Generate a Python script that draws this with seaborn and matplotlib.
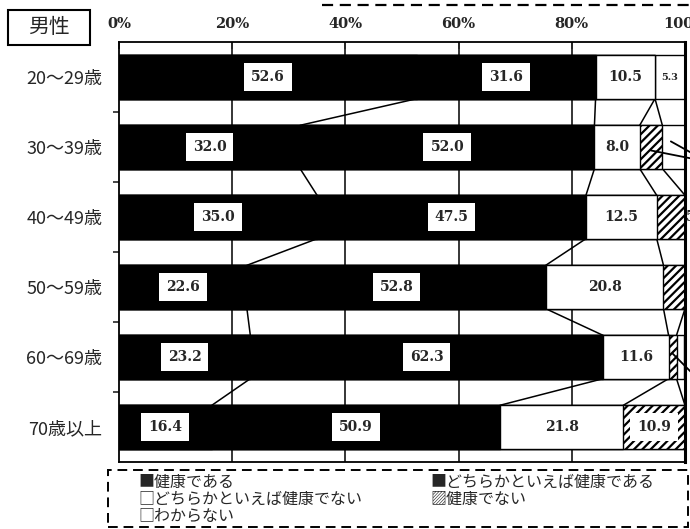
import matplotlib
matplotlib.use("Agg")
import pandas as pd
import matplotlib.pyplot as plt
import seaborn as sns
from matplotlib.patches import Rectangle
from matplotlib.lines import Line2D

# values (percent, men by age group)
AGE_GROUPS = ["20～29歳", "30～39歳", "40～49歳", "50～59歳", "60～69歳", "70歳以上"]
SERIES = ["健康である", "どちらかといえば健康である", "どちらかといえば健康でない", "健康でない", "わからない"]
HEALTHY = [52.6, 32.0, 35.0, 22.6, 23.2, 16.4]
RATHER_HEALTHY = [31.6, 52.0, 47.5, 52.8, 62.3, 50.9]
RATHER_UNHEALTHY = [10.5, 8.0, 12.5, 20.8, 11.6, 21.8]
UNHEALTHY = [0.0, 4.0, 5.0, 3.8, 1.4, 10.9]
UNKNOWN = [5.3, 4.0, 0.0, 0.0, 1.4, 0.0]
X_TICKS = [0, 20, 40, 60, 80, 100]
LEGEND_MARKS = ["■", "■", "□", "▨", "□"]

W, H = 690, 529


def px(x, y):
    return x / W, 1 - y / H


def main():
    df = pd.DataFrame({
        "age": AGE_GROUPS,
        SERIES[0]: HEALTHY,
        SERIES[1]: RATHER_HEALTHY,
        SERIES[2]: RATHER_UNHEALTHY,
        SERIES[3]: UNHEALTHY,
        SERIES[4]: UNKNOWN,
    })
    cum = df[SERIES].cumsum(axis=1)
    cum["age"] = df["age"]

    sns.set_style("white")
    plt.rcParams["font.family"] = ["Noto Sans CJK JP", "DejaVu Sans"]
    plt.rcParams["hatch.linewidth"] = 1.6

    fig = plt.figure(figsize=(W / 100, H / 100), dpi=100)
    ax = fig.add_axes([119 / W, 67 / H, 566 / W, 420 / H])

    faces = ["black", "black", "white", "white", "white"]
    hatches = [None, None, None, "////", None]
    bar_h = 0.62

    # stacked bars drawn as overlapping cumulative layers
    for k in range(len(SERIES) - 1, -1, -1):
        sns.barplot(data=cum, x=SERIES[k], y="age", order=AGE_GROUPS, orient="h",
                    color=faces[k], hatch=hatches[k], edgecolor="black", linewidth=1.0,
                    width=bar_h, saturation=1, errorbar=None, ax=ax, zorder=2)

    # series lines between neighbouring bars
    for i in range(len(AGE_GROUPS) - 1):
        for k in range(len(SERIES) - 1):
            x0 = cum.iloc[i][SERIES[k]]
            x1 = cum.iloc[i + 1][SERIES[k]]
            ax.plot([x0, x1], [i + bar_h / 2, i + 1 - bar_h / 2], color="black", lw=1.1, zorder=1)

    # value labels
    num_font = dict(family="DejaVu Serif", weight="bold")
    for i, age in enumerate(AGE_GROUPS):
        left = 0
        for k, s in enumerate(SERIES):
            v = df.loc[i, s]
            if v >= 5.3:
                size = 7 if v < 8 else 10
                pad = 2 if v < 8 else 5
                ax.text(left + v / 2, i, f"{v:.1f}", ha="center", va="center", fontsize=size,
                        zorder=5, bbox=dict(facecolor="white", edgecolor="none", pad=pad), **num_font)
            left += v

    # labels that sit outside the plot on the right (cut off by the page edge)
    ax.text(100.15, 2, f"{UNHEALTHY[2]:.1f}", ha="left", va="center", fontsize=10,
            clip_on=False, **num_font)
    c1 = cum.iloc[1]
    ax.plot([c1[SERIES[2]] + UNHEALTHY[1] / 2, 101.5], [1.05, 1.17], color="black", lw=1.3, clip_on=False, zorder=6)
    ax.plot([c1[SERIES[3]] + 1.5, 101.5], [0.92, 1.1], color="black", lw=1.3, clip_on=False, zorder=6)
    c4 = cum.iloc[4]
    ax.plot([c4[SERIES[2]] + UNHEALTHY[4] / 2, 101.5], [3.95, 4.25], color="black", lw=1.3, clip_on=False, zorder=6)

    # axes styling
    ax.set_xlim(0, 100)
    ax.set_ylim(len(AGE_GROUPS) - 0.5, -0.5)
    ax.xaxis.tick_top()
    ax.set_xticks(X_TICKS)
    ax.set_xticklabels([f"{t}%" for t in X_TICKS], fontsize=10.5, **num_font)
    ax.tick_params(axis="x", length=5, width=1.2, direction="in", pad=8, top=True, bottom=False)
    ax.set_yticks(range(len(AGE_GROUPS)))
    ax.set_yticklabels(AGE_GROUPS, fontsize=13)
    ax.tick_params(axis="y", length=0, pad=12)
    ax.set_yticks([i + 0.5 for i in range(len(AGE_GROUPS) - 1)], minor=True)
    ax.tick_params(axis="y", which="minor", length=4, width=1.2, direction="out", left=True)
    ax.set_xlabel("")
    ax.set_ylabel("")
    ax.grid(False)
    for x in X_TICKS[1:-1]:
        ax.axvline(x, color="black", lw=1.1, zorder=0)
    for side in ["top", "bottom", "left"]:
        ax.spines[side].set_visible(True)
        ax.spines[side].set_color("black")
        ax.spines[side].set_linewidth(1.3)
    ax.spines["right"].set_visible(True)
    ax.spines["right"].set_color("black")
    ax.spines["right"].set_linewidth(2.2)

    # "男性" box
    fig.patches.append(Rectangle(px(8, 45), 82 / W, 35 / H, transform=fig.transFigure,
                                 facecolor="white", edgecolor="black", lw=1.5))
    fig.text(*px(49, 27), "男性", ha="center", va="center", fontsize=15)

    # dashed box edge cut off at the top
    fig.lines.append(Line2D([322 / W, 1.0], [1 - 5 / H] * 2, transform=fig.transFigure,
                            color="black", lw=1.6, ls=(0, (5, 3))))

    # legend in a dashed box
    fig.patches.append(Rectangle(px(108, 527), 580 / W, 57 / H, transform=fig.transFigure,
                                 facecolor="none", edgecolor="black", lw=1.4, ls=(0, (5, 3))))
    spots = [(138, 482), (430, 482), (138, 499), (430, 499), (138, 516)]
    for (x, y), mark, name in zip(spots, LEGEND_MARKS, SERIES):
        fig.text(*px(x, y), mark + name, ha="left", va="center", fontsize=11.5)

    fig.savefig("out.png", dpi=100)


if __name__ == "__main__":
    main()
